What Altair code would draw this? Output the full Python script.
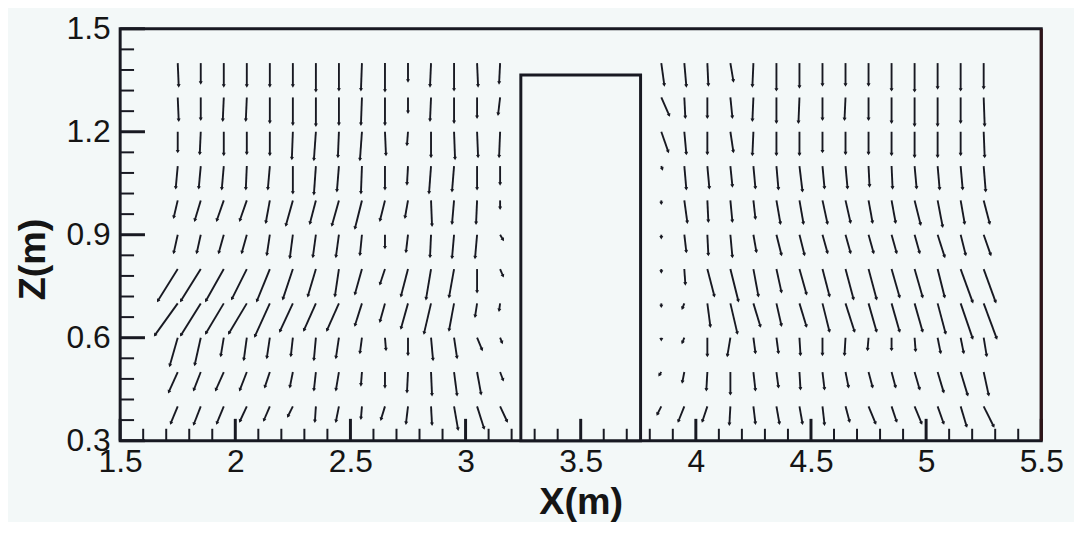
import math
import altair as alt
import pandas as pd

# ---------------- data ----------------
X_LEFT = [1.75, 1.85, 1.95, 2.05, 2.15, 2.25, 2.35, 2.45, 2.55, 2.65, 2.75, 2.85, 2.95, 3.05, 3.15]
X_RIGHT = [3.85, 3.95, 4.05, 4.15, 4.25, 4.35, 4.45, 4.55, 4.65, 4.75, 4.85, 4.95, 5.05, 5.15, 5.25]
Z_ROWS = [1.4, 1.3, 1.2, 1.1, 1.0, 0.9, 0.8, 0.7, 0.6, 0.5, 0.4]

# horizontal component (positive = +X), one list per row (top to bottom)
U_LEFT = [
    [1, 0, 0, 0, 0, 0, 0, 0, -1, 0, 0, -1, 0, 1, -1],
    [1, 0, -1, -1, 0, 0, 0, 0, -1, 0, 0, -1, 0, 0, -2],
    [0, -1, 0, 0, 0, -1, -2, -1, -2, 1, -1, 0, 1, 1, -1],
    [-2, -2, -2, -1, -2, 0, -2, -2, -1, 0, -1, -2, -2, 0, 0],
    [-4, -6, -7, -7, -4, -7, -6, -7, -7, -5, -3, 1, -2, -1, 0],
    [-4, -4, -5, -5, -3, -3, -3, -3, -2, 0, -2, -1, -2, -2, 3],
    [-20, -20, -18, -15, -13, -10, -8, -4, -7, -5, -7, -5, -5, 0, 3],
    [-23, -20, -18, -18, -15, -13, -12, -12, -7, -5, -7, -7, -5, -2, -1],
    [-8, -6, -3, -3, -3, -2, -2, -3, -2, 1, 0, 2, 3, 5, 2],
    [-9, -7, -8, -7, -5, -3, -2, -3, -1, 0, -1, 1, 3, 4, 3],
    [-7, -7, -7, -7, -6, -5, -1, -3, -1, -4, -2, 1, 4, 7, 7],
]
# vertical component (positive = +Z)
W_LEFT = [
    [-23, -20, -23, -23, -23, -23, -28, -27, -27, -28, -18, -23, -27, -23, -20],
    [-23, -22, -23, -23, -25, -27, -28, -27, -27, -27, -15, -23, -25, -20, -17],
    [-20, -22, -23, -22, -23, -27, -28, -25, -28, -23, -13, -25, -27, -25, -25],
    [-22, -22, -23, -23, -23, -27, -28, -25, -27, -23, -18, -27, -25, -23, -18],
    [-17, -20, -20, -20, -22, -25, -23, -25, -28, -20, -17, -25, -23, -23, -8],
    [-18, -18, -18, -18, -20, -23, -22, -22, -20, -13, -17, -22, -23, -23, -5],
    [-32, -32, -32, -30, -32, -30, -27, -27, -25, -15, -27, -30, -28, -23, -7],
    [-32, -32, -30, -30, -33, -28, -27, -27, -22, -18, -25, -30, -27, -13, -7],
    [-28, -27, -18, -22, -20, -18, -22, -20, -15, -12, -17, -22, -20, -12, -5],
    [-20, -18, -18, -18, -15, -15, -18, -18, -13, -15, -20, -23, -23, -22, -8],
    [-17, -18, -17, -15, -14, -10, -15, -15, -12, -13, -17, -18, -23, -22, -15],
]
U_RIGHT = [
    [3, 2, 1, 3, -1, 0, 0, 0, 0, 0, 0, 0, 0, 0, 0],
    [8, 1, 0, 2, -1, 0, -1, 0, -1, 0, 0, 0, 0, 0, 1],
    [7, 2, 0, 3, -1, 0, 0, 0, 0, 0, 0, 0, 0, 0, 1],
    [1, 2, 2, 2, 2, 2, 3, 2, 2, 1, 1, 2, 2, 2, 2],
    [0, 3, 1, 2, 2, 4, 4, 5, 5, 4, 4, 6, 5, 4, 6],
    [0, 2, 1, 2, 3, 5, 5, 5, 5, 5, 5, 5, 7, 5, 7],
    [0, 1, 7, 8, 5, 5, 7, 7, 8, 8, 8, 8, 7, 12, 12],
    [0, -2, 3, 7, 7, 5, 7, 7, 9, 8, 8, 8, 8, 12, 13],
    [0, -2, 0, -3, 2, 2, 1, 0, -1, -1, 0, 1, 3, 3, 3],
    [-2, -2, -1, 0, 2, 2, 1, 2, 3, 4, 4, 5, 6, 7, 5],
    [-4, -6, -5, -1, 2, 3, 3, 2, 4, 7, 5, 7, 6, 6, 10],
]
W_RIGHT = [
    [-22, -23, -22, -18, -23, -27, -24, -22, -22, -22, -27, -28, -25, -27, -25],
    [-18, -20, -20, -20, -23, -25, -25, -22, -22, -22, -25, -28, -28, -25, -28],
    [-20, -22, -22, -20, -23, -23, -23, -20, -22, -22, -23, -25, -25, -23, -25],
    [-3, -23, -22, -20, -22, -23, -25, -22, -22, -20, -22, -22, -23, -23, -25],
    [-3, -22, -21, -21, -18, -23, -23, -23, -22, -22, -22, -24, -26, -23, -23],
    [-3, -17, -20, -22, -17, -20, -20, -18, -18, -18, -18, -18, -22, -20, -20],
    [-3, -15, -27, -32, -27, -23, -25, -27, -30, -30, -28, -28, -28, -33, -33],
    [-3, -5, -23, -30, -23, -22, -23, -28, -28, -28, -28, -28, -30, -35, -35],
    [-2, -5, -18, -18, -15, -15, -17, -17, -17, -12, -12, -13, -15, -15, -18],
    [-3, -10, -18, -22, -18, -15, -17, -17, -15, -15, -15, -17, -20, -23, -23],
    [-8, -15, -15, -18, -17, -17, -17, -18, -15, -17, -15, -17, -17, -20, -20],
]

# obstacle (block) outline
BOX_X = [3.24, 3.76]
BOX_Z = [0.3, 1.365]

X_DOMAIN = [1.5, 5.5]
Z_DOMAIN = [0.3, 1.5]
X_LABELS = [1.5, 2, 2.5, 3, 3.5, 4, 4.5, 5, 5.5]
Z_LABELS = [0.3, 0.6, 0.9, 1.2, 1.5]

# ---------------- layout ----------------
PW, PH = 928, 415
KX = (X_DOMAIN[1] - X_DOMAIN[0]) / PW   # vector units -> metres (x)
KZ = (Z_DOMAIN[1] - Z_DOMAIN[0]) / PH   # vector units -> metres (z)
INK = "#181922"
BG = "#f3f8f8"
FONT = "Liberation Sans"

rows = []
for xs, U, W in [(X_LEFT, U_LEFT, W_LEFT), (X_RIGHT, U_RIGHT, W_RIGHT)]:
    for i, z in enumerate(Z_ROWS):
        for j, x in enumerate(xs):
            u, w = U[i][j], W[i][j]
            rows.append({
                "x": x, "z": z,
                "x2": x + u * KX, "z2": z + w * KZ,
                "ang": math.degrees(math.atan2(u, w)) % 360,
            })
vec = pd.DataFrame(rows)

x_major = pd.DataFrame({"x": X_LABELS})
x_minor = pd.DataFrame({"x": [round(1.5 + 0.1 * k, 2) for k in range(41)
                              if k % 5 != 0]})
z_major = pd.DataFrame({"z": Z_LABELS})
z_minor = pd.DataFrame({"z": [round(0.3 + 0.06 * k, 2) for k in range(21)
                              if k % 5 != 0]})
box = pd.DataFrame({"x": [BOX_X[0]], "x2": [BOX_X[1]],
                    "z": [BOX_Z[0]], "z2": [BOX_Z[1]]})
right_edge = pd.DataFrame({"x": [X_DOMAIN[1]]})

xs_ = alt.Scale(domain=X_DOMAIN, nice=False, zero=False)
zs_ = alt.Scale(domain=Z_DOMAIN, nice=False, zero=False)

x_axis = alt.Axis(values=X_LABELS, format="~g", title="X(m)", grid=False,
                  domain=False, ticks=False, labelFontSize=32, labelFont=FONT,
                  labelColor="#151515", labelPadding=6, labelFlush=False,
                  labelOverlap=False, labelBound=False,
                  titleFontSize=38, titleFont=FONT, titleFontWeight="bold",
                  titleColor="#151515", titlePadding=6)
z_axis = alt.Axis(values=Z_LABELS, format="~g", title="Z(m)", grid=False,
                  domain=False, ticks=False, labelFontSize=32, labelFont=FONT,
                  labelColor="#151515", labelPadding=10, labelFlush=False,
                  labelOverlap=False, labelBound=False,
                  titleFontSize=38, titleFont=FONT, titleFontWeight="bold",
                  titleColor="#151515", titleAngle=270, titleX=-87, titleY=232,
                  titleAlign="center", titleBaseline="middle")

X = lambda: alt.X("x:Q", scale=xs_, axis=x_axis)
Z = lambda: alt.Y("z:Q", scale=zs_, axis=z_axis)

box_l = alt.Chart(box).mark_rect(fill=BG, stroke=INK, strokeWidth=3).encode(
    x=X(), x2="x2:Q", y=Z(), y2="z2:Q")

shafts = alt.Chart(vec).mark_rule(color=INK, strokeWidth=1.9).encode(
    x=X(), x2="x2:Q", y=Z(), y2="z2:Q")

heads = alt.Chart(vec).mark_point(
    shape="triangle-up", filled=True, fill=INK, opacity=1, size=16).encode(
    x=alt.X("x2:Q", scale=xs_, axis=x_axis),
    y=alt.Y("z2:Q", scale=zs_, axis=z_axis),
    angle=alt.Angle("ang:Q", scale=None))

xt_major = alt.Chart(x_major).mark_rule(color=INK, strokeWidth=3).encode(
    x=X(), y=alt.value(PH), y2=alt.value(PH - 22))
xt_minor = alt.Chart(x_minor).mark_rule(color=INK, strokeWidth=2).encode(
    x=X(), y=alt.value(PH), y2=alt.value(PH - 12))
zt_major = alt.Chart(z_major).mark_rule(color=INK, strokeWidth=3).encode(
    y=Z(), x=alt.value(0), x2=alt.value(25))
zt_minor = alt.Chart(z_minor).mark_rule(color=INK, strokeWidth=2).encode(
    y=Z(), x=alt.value(0), x2=alt.value(14))

edge = alt.Chart(right_edge).mark_rule(color="#2e1418", strokeWidth=3).encode(
    x=X(), y=alt.value(0), y2=alt.value(PH))

chart = alt.layer(
    box_l, shafts, heads, xt_major, xt_minor, zt_major, zt_minor, edge
).properties(
    width=PW, height=PH,
    autosize=alt.AutoSizeParams(type="none"),
    padding={"left": 113, "top": 19, "right": 33, "bottom": 80},
    background=BG,
).configure(
    font=FONT,
    view=alt.ViewConfig(stroke=INK, strokeWidth=3, fill=BG),
)

chart.save("out.html", embed_options={"renderer": "svg", "actions": False})
